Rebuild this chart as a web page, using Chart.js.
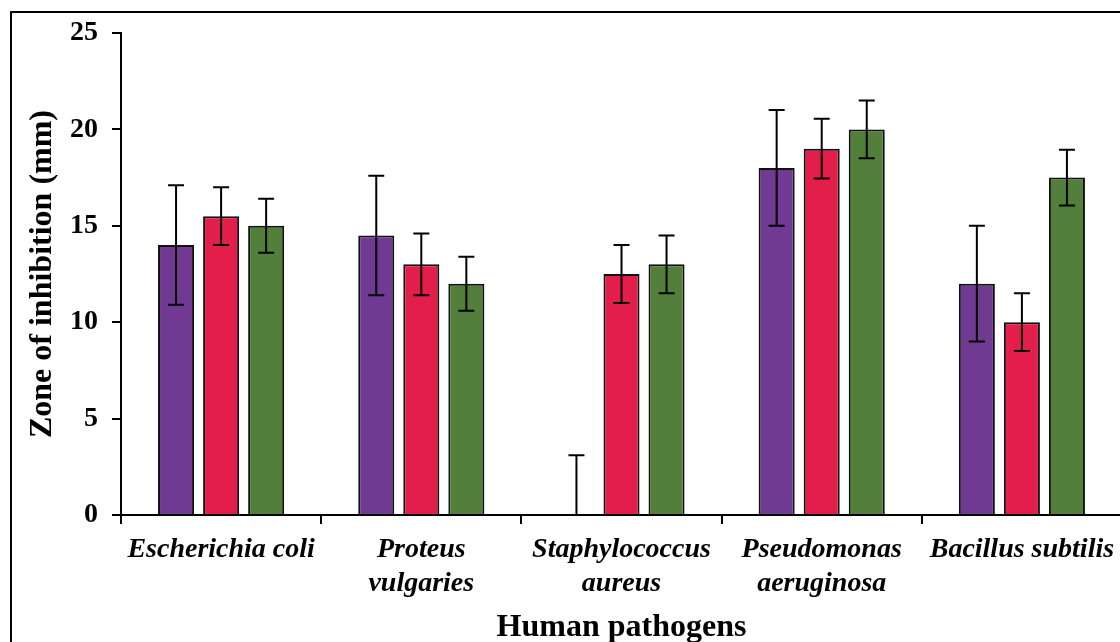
<!DOCTYPE html>
<html>
<head>
<meta charset="utf-8">
<script src="https://cdn.jsdelivr.net/npm/chart.js@4/dist/chart.umd.min.js"></script>
<style>
  html, body { margin: 0; padding: 0; background: #fff; overflow: hidden; width: 1120px; height: 642px; }
  #frame { position: absolute; left: 10px; top: 11px; width: 2000px; height: 2000px; border: 2px solid #000; box-sizing: border-box; }
  #wrap { position: absolute; left: 0; top: 0; width: 1140px; height: 652px; }
</style>
</head>
<body>
<div id="frame"></div>
<div id="wrap"><canvas id="chart"></canvas></div>
<script>
// Zone of inhibition (mm) per pathogen, three treatments with error bars
const pathogens = [
    ['Escherichia coli'],
    ['Proteus', 'vulgaries'],
    ['Staphylococcus', 'aureus'],
    ['Pseudomonas', 'aeruginosa'],
    ['Bacillus subtilis']
];
const purpleVals = [14, 14.5, 0, 18, 12];
const purpleErr = [3.1, 3.1, 3.1, 3.0, 3.0];
const redVals = [15.5, 13, 12.5, 19, 10];
const redErr = [1.5, 1.6, 1.5, 1.55, 1.5];
const greenVals = [15, 12, 13, 20, 17.5];
const greenErr = [1.4, 1.4, 1.5, 1.5, 1.45];
const yTicks = [0, 5, 10, 15, 20, 25];

const serif = 'Liberation Serif, Times New Roman, serif';

const errorBars = {
    id: 'errorBars',
    afterDatasetsDraw(chart) {
        const ctx = chart.ctx;
        const y = chart.scales.y;
        ctx.save();
        ctx.strokeStyle = '#000';
        ctx.lineWidth = 2;
        chart.data.datasets.forEach((ds, i) => {
            const meta = chart.getDatasetMeta(i);
            meta.data.forEach((bar, j) => {
                const v = ds.data[j], e = ds.errors[j];
                const top = y.getPixelForValue(v + e);
                const bot = y.getPixelForValue(Math.max(0, v - e));
                ctx.beginPath();
                ctx.moveTo(bar.x, top);
                ctx.lineTo(bar.x, bot);
                ctx.moveTo(bar.x - 8, top);
                ctx.lineTo(bar.x + 8, top);
                if (v - e > 0) {
                    ctx.moveTo(bar.x - 8, bot);
                    ctx.lineTo(bar.x + 8, bot);
                }
                ctx.stroke();
            });
        });
        ctx.restore();
    }
};

const mkSet = (label, data, errors, color) => ({
    label, data, errors,
    backgroundColor: color,
    borderColor: '#111',
    borderWidth: 2,
    categoryPercentage: 0.675,
    barPercentage: 0.8
});

new Chart(document.getElementById('chart'), {
    type: 'bar',
    data: {
        labels: pathogens,
        datasets: [
            mkSet('Series 1', purpleVals, purpleErr, '#703A93'),
            mkSet('Series 2', redVals, redErr, '#E31E4B'),
            mkSet('Series 3', greenVals, greenErr, '#52803A')
        ]
    },
    options: {
        responsive: true,
        maintainAspectRatio: false,
        animation: false,
        layout: { padding: { top: 33, right: 18, left: 0, bottom: 0 } },
        plugins: { legend: { display: false }, tooltip: { enabled: false } },
        scales: {
            x: {
                afterFit: s => { s.height = 137; },
                grid: { display: true, drawOnChartArea: false, drawTicks: true, tickLength: 9, color: '#000', lineWidth: 2, offset: true },
                border: { color: '#000', width: 2 },
                ticks: {
                    color: '#000', padding: 9, maxRotation: 0, autoSkip: false,
                    font: { family: serif, size: 28, style: 'italic', weight: 'bold', lineHeight: 1.2 }
                },
                title: {
                    display: true, text: 'Human pathogens', color: '#000',
                    padding: { top: 0, bottom: 5 },
                    font: { family: serif, size: 32, weight: 'bold', lineHeight: 1.2 }
                }
            },
            y: {
                min: 0, max: 25,
                afterFit: s => { s.width = 121; },
                afterBuildTicks: s => { s.ticks = yTicks.map(v => ({ value: v })); },
                grid: { display: true, drawOnChartArea: false, drawTicks: true, tickLength: 9, color: '#000', lineWidth: 2 },
                border: { color: '#000', width: 2 },
                ticks: {
                    color: '#000', padding: 14,
                    font: { family: serif, size: 28, weight: 'bold' }
                },
                title: {
                    display: true, text: 'Zone of inhibition (mm)', color: '#000',
                    padding: { top: 24, bottom: 0 },
                    font: { family: serif, size: 32, weight: 'bold', lineHeight: 1.2 }
                }
            }
        }
    },
    plugins: [errorBars]
});
</script>
</body>
</html>
